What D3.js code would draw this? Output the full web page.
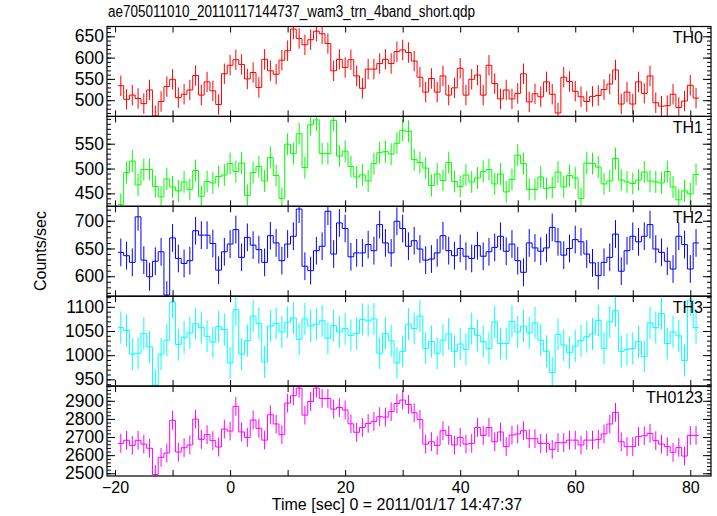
<!DOCTYPE html>
<html><head><meta charset="utf-8">
<script src="https://cdn.jsdelivr.net/npm/d3@7"></script>
<style>body{margin:0;background:#fff} svg{display:block}</style>
</head><body><svg id="c" width="717" height="516"></svg>
<script>
const title = "ae705011010_20110117144737_wam3_trn_4band_short.qdp";
const xLabel = "Time [sec] 0 = 2011/01/17 14:47:37";
const yLabel = "Counts/sec";
const firstBin = -19, binWidth = 1;

const th0 = [534,502,512,504,492,524,463,497,532,549,506,514,524,558,512,543,522,490,562,
 582,595,584,550,565,530,596,569,561,594,616,667,645,630,642,662,656,633,569,596,
 577,595,557,528,573,573,586,596,586,614,618,612,592,554,519,551,519,557,512,529,
 575,512,549,559,512,582,539,503,524,503,516,562,496,515,508,543,514,470,554,544,
 521,508,497,509,511,525,538,571,491,519,491,543,516,557,494,486,487,514,483,498,535,505];
const th1 = [428,492,515,467,498,498,464,443,479,463,455,473,458,496,444,474,471,484,487,
 510,494,511,446,492,504,475,522,486,440,549,530,570,502,588,598,530,530,597,525,
 535,504,483,487,475,510,532,534,529,551,577,575,518,512,501,466,489,476,512,474,
 464,487,473,481,494,498,469,489,453,478,527,510,458,458,483,460,462,493,463,486,
 481,440,511,510,503,469,475,520,477,473,470,477,493,475,473,471,494,463,437,455,449,488];
const th2 = [643,637,625,707,629,599,627,644,566,669,632,623,628,682,674,674,659,611,644,
 658,684,634,670,656,648,625,673,660,628,658,672,721,618,610,646,654,717,640,696,
 686,635,642,642,657,646,693,660,642,699,686,654,664,649,629,631,642,673,646,637,
 650,636,632,655,636,644,652,672,645,658,628,607,660,651,645,651,688,662,638,650,
 666,662,640,624,601,625,634,676,609,646,672,662,672,693,649,643,627,613,672,657,613,660];
const th3 = [1057,1051,1002,1004,1045,1017,938,1002,1031,1110,1022,1037,1046,1065,1057,1039,1027,1059,1053,
 984,1094,1002,1030,1081,1066,986,1060,1066,1048,1068,1077,1033,1075,1060,1064,1071,1035,1061,1048,
 1055,1041,1045,1074,1071,1075,1004,1045,1030,984,1008,1064,1055,1081,1014,1028,1004,1031,1044,1008,
 1023,1012,1055,1041,1028,1014,1069,1024,1024,1070,1048,1060,1046,1067,1031,1008,964,1043,1021,1005,
 1019,1030,1038,1044,1072,1014,1069,1092,1008,1012,1014,1028,997,1067,1057,1086,1024,1048,1040,989,1114,1057];
const th0123 = [2665,2682,2654,2682,2661,2638,2493,2588,2612,2792,2617,2641,2656,2799,2687,2713,2680,2645,2744,
 2733,2869,2728,2698,2794,2748,2683,2823,2772,2713,2887,2928,2970,2821,2896,2970,2913,2913,2854,2863,
 2849,2773,2726,2753,2775,2786,2812,2810,2840,2885,2904,2880,2834,2797,2661,2674,2654,2735,2709,2656,
 2698,2661,2665,2753,2709,2753,2674,2728,2647,2711,2717,2735,2691,2691,2665,2665,2632,2669,2669,2683,
 2683,2656,2683,2683,2687,2717,2772,2836,2674,2647,2647,2702,2707,2720,2680,2661,2647,2616,2643,2595,2709,2709];

const panelNames = ["TH0","TH1","TH2","TH3","TH0123"];
const panelColors = ["#ff0000","#00ff00","#0000ff","#00ffff","#ff00ff"];
const errHalf = [24,22,25,33,52];
const yDomains = [[462,673],[424,605],[564,726],[936,1122],[2485,2981]];
const yMajorTicks = [[500,550,600,650],[450,500,550],[600,650,700],[950,1000,1050,1100],[2500,2600,2700,2800,2900]];
const yMinorStep = [10,10,10,10,20];
const xDomain = [-21.4, 83.6];
const xTickValues = [-20,-10,0,10,20,30,40,50,60,70,80];
const xTickLabels = [-20,0,20,40,60,80];

const series = [th0, th1, th2, th3, th0123];
const FONT = "'Liberation Sans', Arial, Helvetica, sans-serif";
const svg = d3.select("#c");
const plotLeft = 107, plotRight = 711, plotTop = 26.5, panelH = 89.9;
const x = d3.scaleLinear().domain(xDomain).range([plotLeft, plotRight]);

function styleAxis(g, size){
  g.select(".domain").remove();
  g.selectAll(".tick line").attr("stroke","#000").attr("stroke-width",1);
  g.attr("font-family",FONT).attr("font-size",size || 16);
  g.selectAll("text").attr("fill","#000");
}

series.forEach((vals,i)=>{
  const y0 = plotTop + i*panelH, y1 = y0 + panelH;
  const y = d3.scaleLinear().domain(yDomains[i]).range([y1,y0]);
  const color = panelColors[i];
  const clipId = "clip"+i;
  svg.append("clipPath").attr("id",clipId).append("rect")
    .attr("x",plotLeft).attr("y",y0).attr("width",plotRight-plotLeft).attr("height",panelH);
  const data = vals.map((v,k)=>({t:firstBin+k*binWidth, v}));
  const pts = data.flatMap(d=>[[d.t-binWidth/2,d.v],[d.t+binWidth/2,d.v]]);
  const line = d3.line().x(d=>x(d[0])).y(d=>y(d[1]));
  const dg = svg.append("g").attr("clip-path",`url(#${clipId})`);
  dg.selectAll("line.err").data(data).join("line").attr("class","err")
    .attr("x1",d=>x(d.t)).attr("x2",d=>x(d.t))
    .attr("y1",d=>y(d.v-errHalf[i])).attr("y2",d=>y(d.v+errHalf[i]))
    .attr("stroke",color).attr("stroke-width",1);
  dg.append("path").attr("d",line(pts)).attr("fill","none")
    .attr("stroke",color).attr("stroke-width",1);

  const minor = d3.range(Math.ceil(yDomains[i][0]/yMinorStep[i])*yMinorStep[i], yDomains[i][1], yMinorStep[i]);
  svg.append("g").attr("transform",`translate(${plotLeft},0)`)
    .call(d3.axisLeft(y).tickValues(minor).tickSize(-4).tickFormat("")).call(styleAxis);
  svg.append("g").attr("transform",`translate(${plotRight},0)`)
    .call(d3.axisRight(y).tickValues(minor).tickSize(-4).tickFormat("")).call(styleAxis);
  svg.append("g").attr("transform",`translate(${plotLeft},0)`)
    .call(d3.axisLeft(y).tickValues(yMajorTicks[i]).tickSize(-8).tickPadding(3).tickFormat(d3.format("d")))
    .call(g=>styleAxis(g,17.5));
  svg.append("g").attr("transform",`translate(${plotRight},0)`)
    .call(d3.axisRight(y).tickValues(yMajorTicks[i]).tickSize(-8).tickFormat("")).call(styleAxis);

  svg.append("g").attr("transform",`translate(0,${y0})`)
    .call(d3.axisTop(x).tickValues(xTickValues).tickSize(-6).tickFormat("")).call(styleAxis);
  svg.append("g").attr("transform",`translate(0,${y1})`)
    .call(d3.axisBottom(x).tickValues(xTickValues).tickSize(-6).tickPadding(6)
      .tickFormat(d => (i===series.length-1 && xTickLabels.includes(d)) ? d3.format("d")(d).replace("-","\u2212") : ""))
    .call(styleAxis);

  svg.append("rect").attr("x",plotLeft).attr("y",y0).attr("width",plotRight-plotLeft).attr("height",panelH)
    .attr("fill","none").attr("stroke","#000").attr("stroke-width",1.2);

  svg.append("text").attr("x",plotRight-8).attr("y",y0+16.5).attr("text-anchor","end")
    .attr("font-family",FONT).attr("font-size",16).text(panelNames[i]);
});

svg.append("text").attr("x",108).attr("y",17).attr("font-family",FONT).attr("font-size",16)
  .attr("textLength",367).attr("lengthAdjust","spacingAndGlyphs").text(title);
svg.append("text").attr("x",397).attr("y",510).attr("text-anchor","middle")
  .attr("font-family",FONT).attr("font-size",16).text(xLabel);
svg.append("text").attr("transform","translate(46,251) rotate(-90)").attr("text-anchor","middle")
  .attr("font-family",FONT).attr("font-size",16).text(yLabel);
</script></body></html>
